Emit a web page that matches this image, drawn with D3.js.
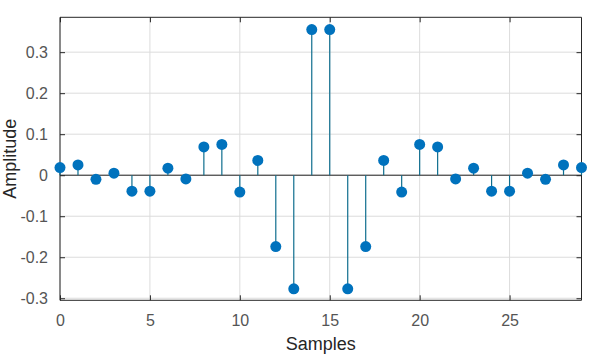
<!DOCTYPE html>
<html><head><meta charset="utf-8">
<script src="https://cdn.jsdelivr.net/npm/d3@7"></script>
<style>body{margin:0;background:#fff}svg{display:block}text{font-family:"Liberation Sans",Arial,sans-serif}</style>
</head><body><svg id="c" width="597" height="356"></svg>
<script>
const samples = d3.range(0, 30);
const amplitude = [0.0185, 0.025, -0.010, 0.005, -0.039, -0.039, 0.017, -0.009, 0.069, 0.075,
  -0.041, 0.036, -0.174, -0.277, 0.355, 0.355, -0.277, -0.174, 0.036, -0.041,
  0.075, 0.069, -0.009, 0.017, -0.039, -0.039, 0.005, -0.010, 0.025, 0.0185];
const xTicks = [0, 5, 10, 15, 20, 25];
const yTicks = [-0.3, -0.2, -0.1, 0, 0.1, 0.2, 0.3];

const L = 60, R = 581.5, T = 17.3, B = 300.3;
const svg = d3.select("#c");
const x = d3.scaleLinear().domain([0, 29]).range([L, R]);
const y = d3.scaleLinear().domain([-0.305, 0.385]).range([B, T]);

// grid
svg.append("g").selectAll("line").data(xTicks).join("line")
  .attr("x1", d => x(d)).attr("x2", d => x(d)).attr("y1", T).attr("y2", B)
  .attr("stroke", "#dcdcdc").attr("stroke-width", 1);
svg.append("g").selectAll("line").data(yTicks).join("line")
  .attr("x1", L).attr("x2", R).attr("y1", d => y(d)).attr("y2", d => y(d))
  .attr("stroke", "#dcdcdc").attr("stroke-width", 1);

// axes
const fmt = d => d === 0 ? "0" : d3.format(".1f")(d).replace("−", "-");
const gx = svg.append("g").attr("transform", `translate(0,${B})`)
  .call(d3.axisBottom(x).tickValues(xTicks).tickSize(-5).tickPadding(14).tickFormat(d3.format("d")));
const gxt = svg.append("g").attr("transform", `translate(0,${T})`)
  .call(d3.axisTop(x).tickValues(xTicks).tickSize(-5).tickFormat(""));
const gy = svg.append("g").attr("transform", `translate(${L},0)`)
  .call(d3.axisLeft(y).tickValues(yTicks).tickSize(-5).tickPadding(12).tickFormat(fmt));
const gyr = svg.append("g").attr("transform", `translate(${R},0)`)
  .call(d3.axisRight(y).tickValues(yTicks).tickSize(-5).tickFormat(""));
[gx, gxt, gy, gyr].forEach(g => {
  g.select(".domain").attr("stroke", "#262626").attr("stroke-width", 1);
  g.selectAll(".tick line").attr("stroke", "#262626");
  g.selectAll("text").attr("fill", "#555555").style("font-size", "16px");
});
gx.selectAll(".domain").attr("d", `M${L},0H${R}`);
gxt.selectAll(".domain").attr("d", `M${L},0H${R}`);
gy.selectAll(".domain").attr("d", `M0,${T}V${B}`);
gyr.selectAll(".domain").attr("d", `M0,${T}V${B}`);

// baseline
svg.append("line").attr("x1", L).attr("x2", R).attr("y1", y(0)).attr("y2", y(0))
  .attr("stroke", "#262626").attr("stroke-width", 1);

// stems
svg.append("g").selectAll("line").data(samples).join("line")
  .attr("x1", d => x(d)).attr("x2", d => x(d))
  .attr("y1", y(0)).attr("y2", d => y(amplitude[d]))
  .attr("stroke", "#0f6e8e").attr("stroke-width", 1.2);
svg.append("g").selectAll("circle").data(samples).join("circle")
  .attr("cx", d => x(d)).attr("cy", d => y(amplitude[d])).attr("r", 5.5)
  .attr("fill", "#0072BD");

// labels
svg.append("text").attr("x", (L + R) / 2).attr("y", 350).attr("text-anchor", "middle")
  .attr("fill", "#262626").style("font-size", "18px").text("Samples");
svg.append("text").attr("transform", `translate(16,${(T + B) / 2}) rotate(-90)`)
  .attr("text-anchor", "middle").attr("fill", "#262626").style("font-size", "18px").text("Amplitude");
</script></body></html>
